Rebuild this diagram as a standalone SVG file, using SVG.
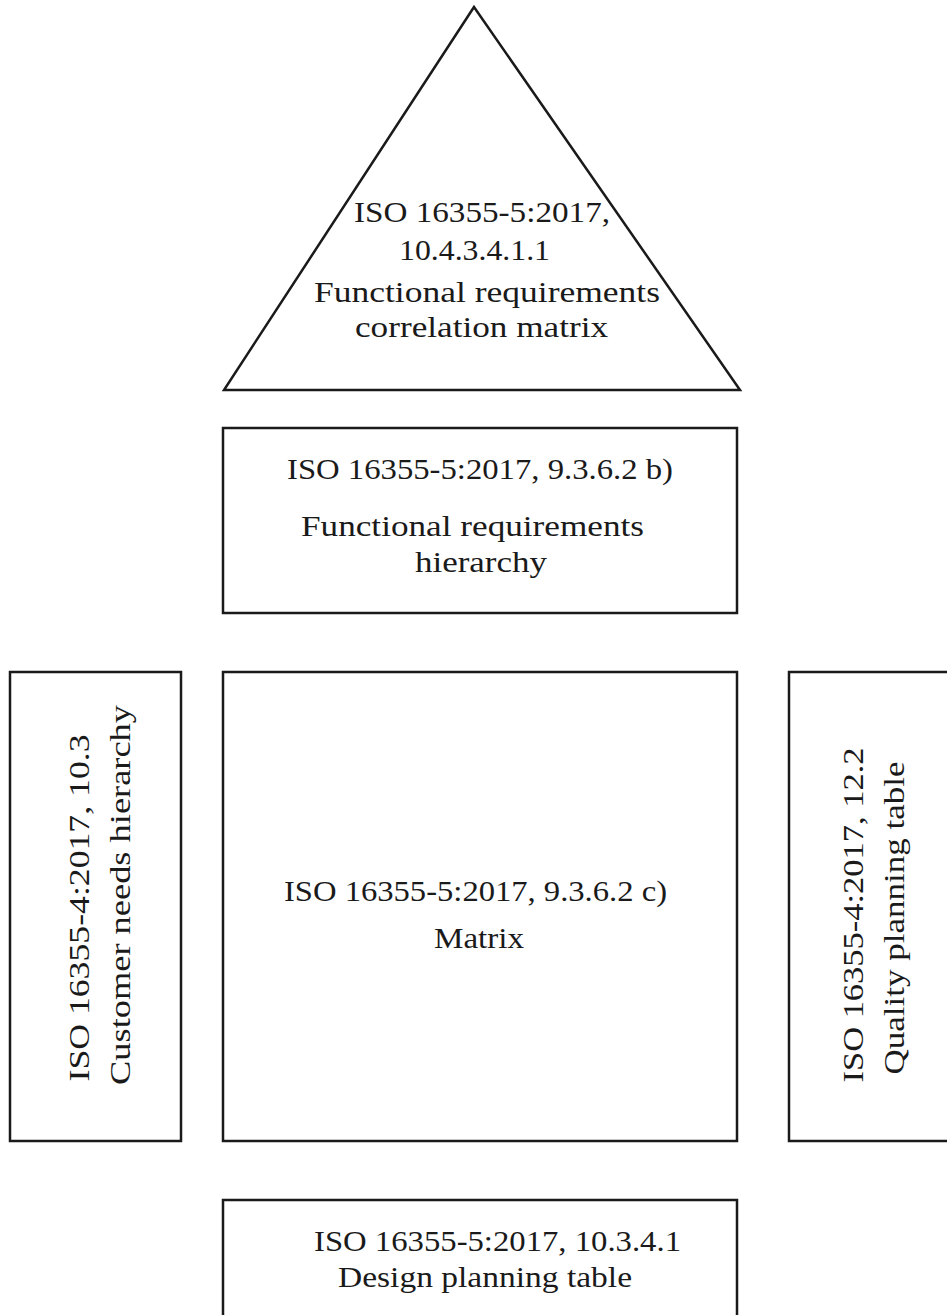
<svg xmlns="http://www.w3.org/2000/svg" width="947" height="1315" viewBox="0 0 947 1315">
  <style>
    .shape { fill: #ffffff; stroke: #1a1a1a; stroke-width: 2.5; }
    .lbl { font-family: "Liberation Serif", "Times New Roman", serif; font-size: 30px; fill: #1a1a1a; }
  </style>
  <rect width="947" height="1315" fill="#ffffff"/>

  <!-- roof: correlation matrix -->
  <g id="roof">
    <polygon class="shape" points="474,7 224,390 740,390" stroke-linejoin="miter"/>
    <text class="lbl" x="354" y="222" textLength="256" lengthAdjust="spacingAndGlyphs">ISO 16355-5:2017,</text>
    <text class="lbl" x="399" y="260" textLength="151" lengthAdjust="spacingAndGlyphs">10.4.3.4.1.1</text>
    <text class="lbl" x="314" y="302" textLength="346" lengthAdjust="spacingAndGlyphs">Functional requirements</text>
    <text class="lbl" x="355" y="337" textLength="253" lengthAdjust="spacingAndGlyphs">correlation matrix</text>
  </g>

  <!-- ceiling: functional requirements hierarchy -->
  <g id="fr-hierarchy">
    <rect class="shape" x="223" y="428" width="514" height="185"/>
    <text class="lbl" x="287" y="479" textLength="386" lengthAdjust="spacingAndGlyphs">ISO 16355-5:2017, 9.3.6.2 b)</text>
    <text class="lbl" x="301" y="536" textLength="343" lengthAdjust="spacingAndGlyphs">Functional requirements</text>
    <text class="lbl" x="415" y="572" textLength="132" lengthAdjust="spacingAndGlyphs">hierarchy</text>
  </g>

  <!-- left wall: customer needs hierarchy -->
  <g id="cn-hierarchy">
    <rect class="shape" x="10" y="672" width="171" height="469"/>
    <text class="lbl" transform="translate(89,908) rotate(-90)" text-anchor="middle" textLength="347" lengthAdjust="spacingAndGlyphs">ISO 16355-4:2017,  10.3</text>
    <text class="lbl" transform="translate(130,895) rotate(-90)" text-anchor="middle" textLength="380" lengthAdjust="spacingAndGlyphs">Customer needs hierarchy</text>
  </g>

  <!-- centre: relationship matrix -->
  <g id="matrix">
    <rect class="shape" x="223" y="672" width="514" height="469"/>
    <text class="lbl" x="284" y="901" textLength="383" lengthAdjust="spacingAndGlyphs">ISO 16355-5:2017, 9.3.6.2 c)</text>
    <text class="lbl" x="434" y="948" textLength="90" lengthAdjust="spacingAndGlyphs">Matrix</text>
  </g>

  <!-- right wall: quality planning table -->
  <g id="quality-planning">
    <rect class="shape" x="789" y="672" width="170" height="469"/>
    <text class="lbl" transform="translate(863,915) rotate(-90)" text-anchor="middle" textLength="335" lengthAdjust="spacingAndGlyphs">ISO 16355-4:2017,  12.2</text>
    <text class="lbl" transform="translate(904,918) rotate(-90)" text-anchor="middle" textLength="313" lengthAdjust="spacingAndGlyphs">Quality planning table</text>
  </g>

  <!-- basement: design planning table -->
  <g id="design-planning">
    <rect class="shape" x="223" y="1200" width="514" height="140"/>
    <text class="lbl" x="314" y="1251" textLength="367" lengthAdjust="spacingAndGlyphs">ISO 16355-5:2017, 10.3.4.1</text>
    <text class="lbl" x="338" y="1287" textLength="294" lengthAdjust="spacingAndGlyphs">Design planning table</text>
  </g>

  <g id="connectors"/>
</svg>
